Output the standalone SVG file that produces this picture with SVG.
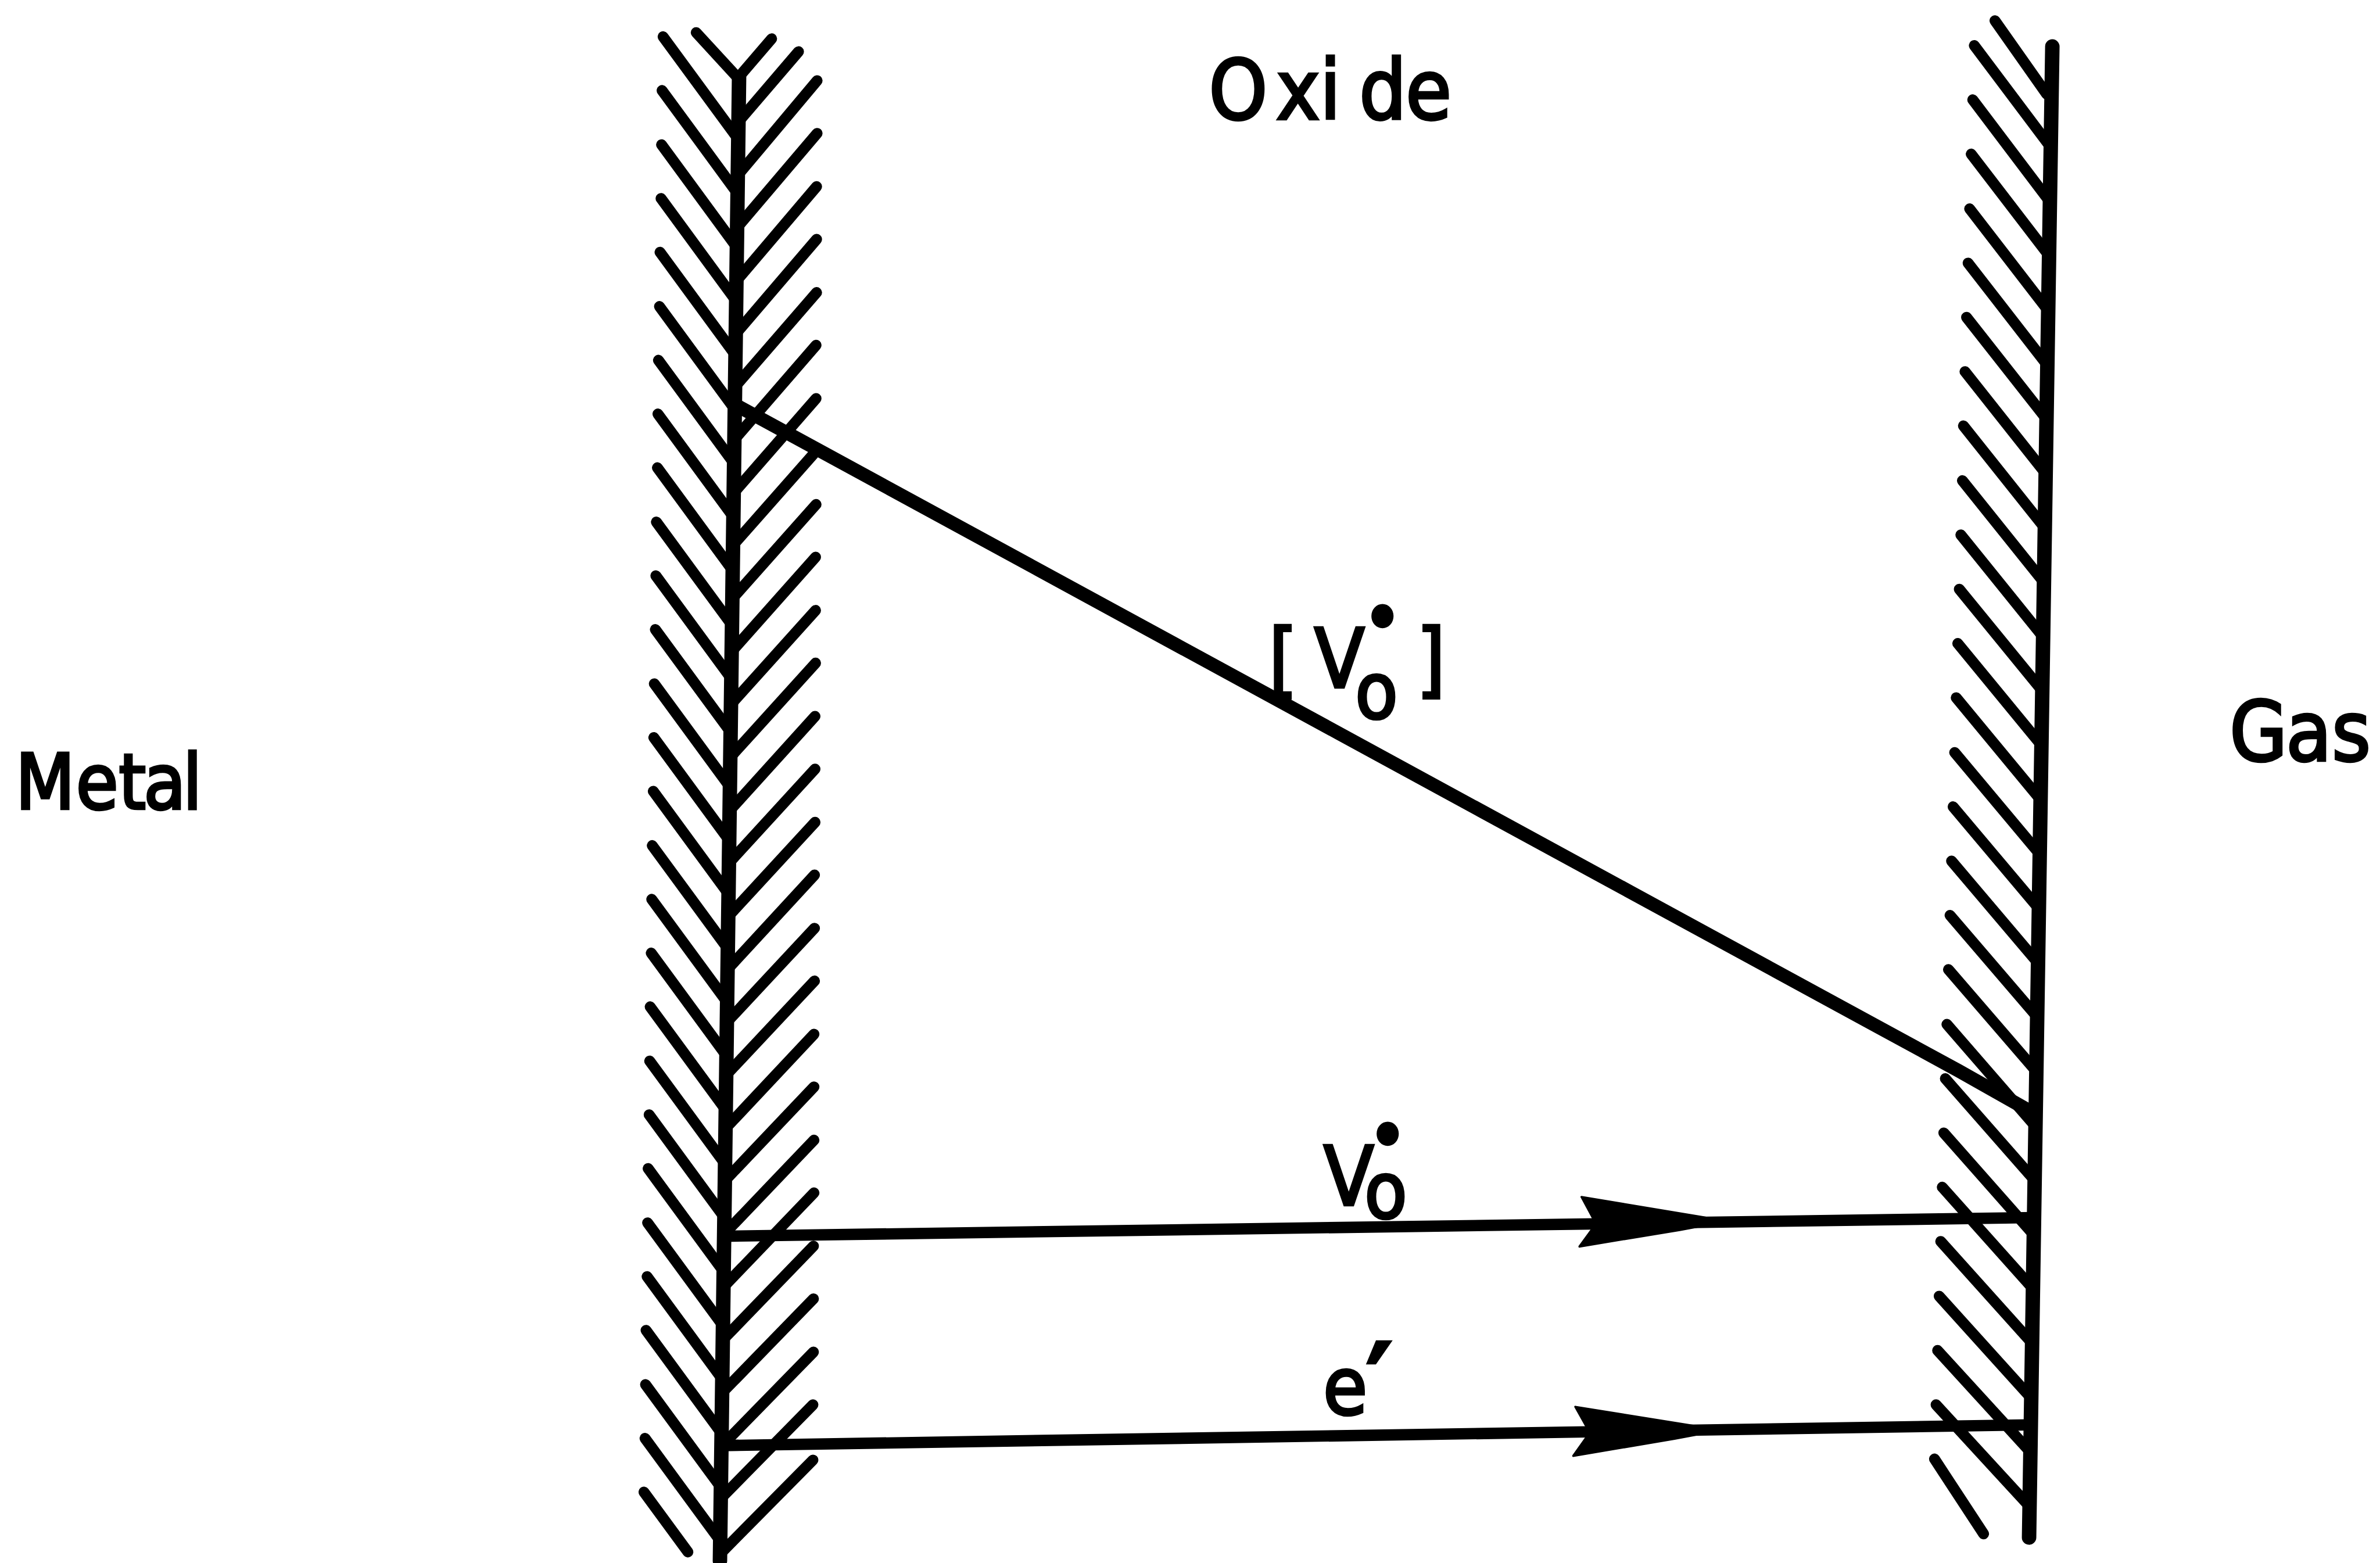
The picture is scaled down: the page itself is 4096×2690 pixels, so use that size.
<svg xmlns="http://www.w3.org/2000/svg" width="4096" height="2690" viewBox="0 0 4096 2690">
<style>
.stem{stroke:#000;stroke-width:28;fill:none;stroke-linecap:round}
.hatch{stroke:#000;stroke-width:21;fill:none;stroke-linecap:round}
.conn{stroke:#000;stroke-width:22;fill:none;stroke-linejoin:round}
.head{fill:#000;stroke:#000;stroke-width:4;stroke-linejoin:round}
.lbl{font-family:"DejaVu Sans Condensed","DejaVu Sans",sans-serif;fill:#000;stroke:#000;stroke-width:5}
</style>
<rect width="4096" height="2690" fill="#fff"/>
<g transform="scale(0.88947)">
<g id="metal-oxide-interface">
<path class="stem" d="M1430 149L1393 3020"/>
<path class="hatch" d="M1347 63L1427 150M1283 71L1426 266M1281 175L1424 370M1280 280L1423 475M1279 384L1422 579M1277 488L1420 683M1276 593L1419 788M1274 697L1417 892M1273 801L1416 996M1272 905L1415 1100M1270 1010L1413 1205M1269 1114L1412 1309M1268 1218L1411 1413M1266 1323L1409 1518M1265 1427L1408 1622M1264 1531L1407 1726M1262 1636L1405 1831M1261 1740L1404 1935M1260 1844L1403 2039M1258 1948L1401 2143M1257 2053L1400 2248M1256 2157L1399 2352M1254 2261L1397 2456M1253 2366L1396 2561M1252 2470L1395 2665M1250 2574L1393 2769M1249 2679L1392 2874M1248 2783L1391 2978M1246 2887L1331 3003"/>
<path class="hatch" d="M1433 145L1493 75M1431 233L1545 100M1430 336L1581 156M1428 438L1581 258M1427 541L1580 361M1426 643L1580 463M1424 746L1580 566M1423 848L1579 668M1422 951L1579 771M1420 1053L1579 873M1419 1156L1579 976M1418 1258L1578 1078M1416 1361L1578 1181M1415 1463L1578 1283M1414 1566L1577 1386M1412 1668L1577 1488M1411 1771L1577 1591M1410 1873L1576 1693M1408 1976L1576 1796M1407 2078L1576 1898M1406 2181L1575 2001M1404 2283L1575 2103M1403 2386L1575 2206M1402 2488L1575 2308M1400 2591L1574 2411M1399 2693L1574 2513M1398 2796L1574 2616M1396 2898L1573 2718M1395 3005L1573 2825"/>
</g>
<g id="oxide-gas-interface">
<path class="stem" d="M3971 90L3926 2975"/>
<path class="hatch" d="M3860 40L3960 182M3820 88L3968 285M3817 193L3966 390M3814 298L3965 495M3811 404L3963 601M3808 509L3961 706M3805 614L3960 811M3802 719L3958 916M3799 824L3956 1021M3797 930L3955 1127M3794 1035L3953 1232M3791 1140L3952 1337M3788 1245L3950 1442M3785 1350L3948 1547M3782 1456L3947 1653M3779 1561L3945 1758M3776 1666L3943 1863M3773 1771L3942 1968M3770 1876L3940 2073M3767 1982L3938 2179M3764 2087L3937 2284M3761 2192L3935 2389M3758 2297L3934 2494M3755 2402L3932 2599M3752 2508L3930 2705M3749 2613L3929 2810M3746 2718L3927 2915M3743 2823L3838 2968"/>
</g>
<g id="metal-label"><text class="lbl" font-size="148" y="1565"><tspan x="30">M</tspan><tspan x="147">e</tspan><tspan x="230">t</tspan><tspan x="278">a</tspan><tspan x="354">l</tspan></text></g>
<g id="oxide-label"><text class="lbl" font-size="160" y="230"><tspan x="2339">O</tspan><tspan x="2469">x</tspan><tspan x="2554">i</tspan><tspan x="2630">d</tspan><tspan x="2720">e</tspan></text></g>
<g id="gas-label"><text class="lbl" font-size="160" y="1472"><tspan x="4314">G</tspan><tspan x="4423">a</tspan><tspan x="4512">s</tspan></text></g>
<g id="connectors">
<path class="conn" style="stroke-width:26" d="M1428 786L3790 2072L3928 2150"/>
<path class="conn" d="M1402 2392L3935 2356"/>
<path class="head" d="M3060 2316L3300 2356L3325 2366L3250 2380L3056 2412L3088 2368Z"/>
<path class="conn" d="M1398 2797L3927 2757"/>
<path class="head" d="M3048 2722L3290 2761L3315 2770L3240 2784L3044 2817L3076 2772Z"/>
</g>
<g id="connector-labels">
<text class="lbl" font-size="158"><tspan x="2455" y="1330">[</tspan><tspan x="2543" y="1330">V</tspan><tspan x="2622" y="1390" font-size="150">o</tspan><tspan x="2675" y="1246" font-size="145" text-anchor="middle">•</tspan><tspan x="2741" y="1330">]</tspan></text>
<text class="lbl" font-size="158"><tspan x="2561" y="2332">V</tspan><tspan x="2640" y="2357" font-size="150">o</tspan><tspan x="2685" y="2247" font-size="145" text-anchor="middle">•</tspan></text>
<text class="lbl" font-size="155"><tspan x="2560" y="2737">e</tspan><tspan x="2668" y="2739" font-size="190" text-anchor="middle" style="stroke-width:12">′</tspan></text>
</g>
</g>
</svg>
